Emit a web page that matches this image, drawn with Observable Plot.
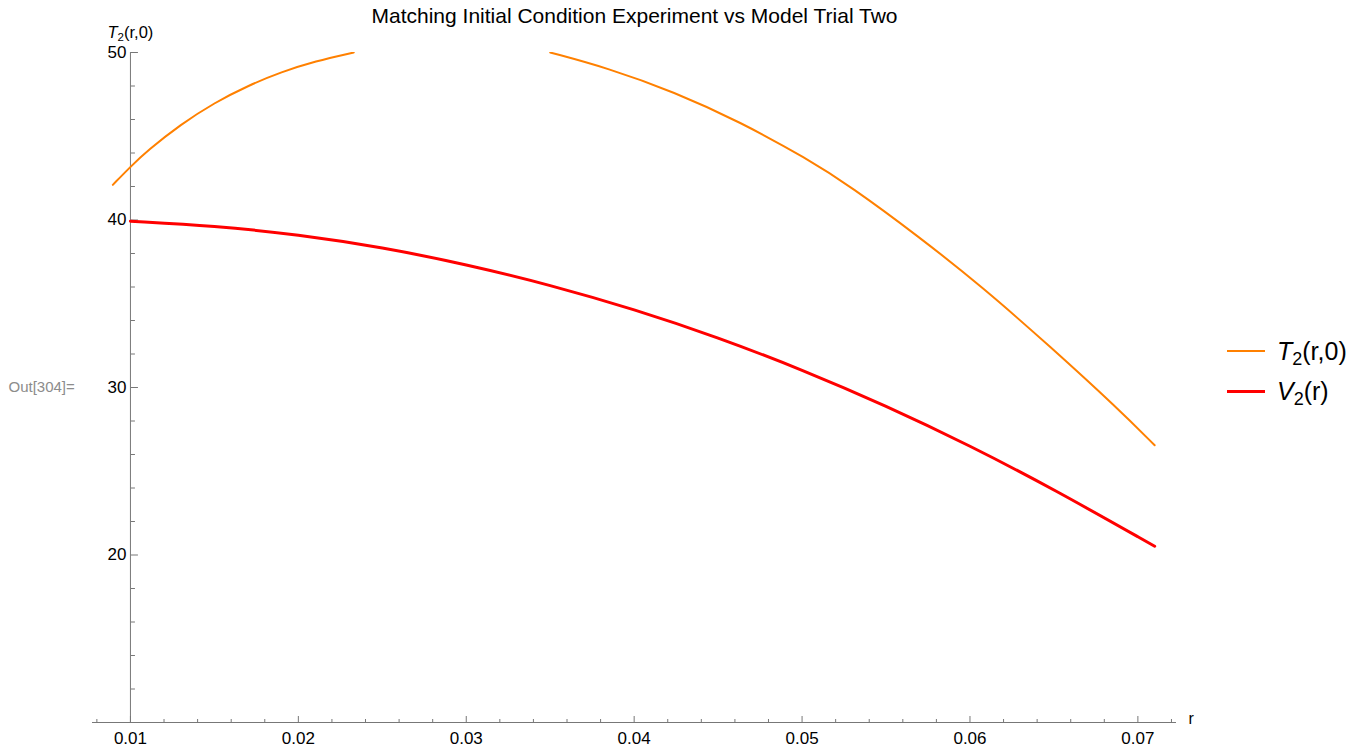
<!DOCTYPE html>
<html>
<head>
<meta charset="utf-8">
<script src="https://cdn.jsdelivr.net/npm/d3@7"></script>
<script src="https://cdn.jsdelivr.net/npm/@observablehq/plot@0.6"></script>
<style>
  html, body { margin: 0; padding: 0; background: #fff; overflow: hidden; }
  #wrap { position: relative; width: 1355px; height: 748px; overflow: hidden; }
  .lg { position: absolute; left: 1227px; height: 28px; line-height: 28px; display: flex; align-items: center; white-space: nowrap;
        font-family: "Liberation Sans", Arial, sans-serif; font-size: 25px; color: #000; }
  .lg .sw { display: inline-block; width: 38px; margin-right: 12px; }
  .lg sub { font-size: 72%; vertical-align: -0.25em; line-height: 0; }
</style>
</head>
<body>
<div id="wrap"></div>
<script>
// ---- data ----
const title = "Matching Initial Condition Experiment vs Model Trial Two";
const yLabel = "T2(r,0)";
const xLabel = "r";
const outLabel = "Out[304]=";
const seriesNames = ["T2(r,0)", "V2(r)"];
const seriesColors = ["#FF8000", "#FF0000"];

const xDomain = [0.00774, 0.0723];
const yDomain = [10, 50];
const yAxisAt = 0.01;
const xAxisAt = 10;

const xMajor = [0.01, 0.02, 0.03, 0.04, 0.05, 0.06, 0.07];
const xMinor = [0.008, 0.012, 0.014, 0.016, 0.018, 0.022, 0.024, 0.026, 0.028,
                0.032, 0.034, 0.036, 0.038, 0.042, 0.044, 0.046, 0.048,
                0.052, 0.054, 0.056, 0.058, 0.062, 0.064, 0.066, 0.068, 0.072];
const yMajor = [20, 30, 40, 50];
const yMinor = [12, 14, 16, 18, 22, 24, 26, 28, 32, 34, 36, 38, 42, 44, 46, 48];

// T2(r,0): curve is cut off above 50 (two visible pieces)
const orangeR1 = [0.00895, 0.0100, 0.0110, 0.0130, 0.0150, 0.0170, 0.0190, 0.0210, 0.0233];
const orangeT1 = [42.10, 43.18, 44.13, 45.71, 47.00, 48.02, 48.84, 49.48, 50.0];
const orangeR2 = [0.0350, 0.0384, 0.0424, 0.0463, 0.0503, 0.0529, 0.0569, 0.0608, 0.0648, 0.0688, 0.0710];
const orangeT2 = [50.0, 49.08, 47.64, 45.86, 43.66, 42.00, 39.05, 35.95, 32.42, 28.75, 26.55];

// V2(r)
const redR = [0.010, 0.015, 0.020, 0.025, 0.030, 0.035, 0.040, 0.045, 0.050, 0.055, 0.060, 0.065, 0.071];
const redT = [39.93, 39.65, 39.13, 38.37, 37.35, 36.12, 34.67, 32.99, 31.06, 28.91, 26.53, 23.92, 20.52];

// ---- build tables ----
const orangeData = [
  ...orangeR1.map((r, i) => ({r, T: orangeT1[i]})),
  {r: NaN, T: NaN},
  ...orangeR2.map((r, i) => ({r, T: orangeT2[i]}))
];
const redData = redR.map((r, i) => ({r, T: redT[i]}));

const axisColor = "#777777";
const font = "'Liberation Sans', Arial, Helvetica, sans-serif";

const chart = Plot.plot({
  width: 1355,
  height: 748,
  marginLeft: 92,
  marginRight: 179,
  marginTop: 52,
  marginBottom: 26,
  x: {domain: xDomain, label: null},
  y: {domain: yDomain, label: null},
  style: {fontFamily: font, background: "white", color: "black", overflow: "visible"},
  marks: [
    // axis lines
    Plot.ruleY([xAxisAt], {stroke: axisColor, strokeWidth: 1}),
    Plot.ruleX([yAxisAt], {y1: yDomain[0], y2: yDomain[1], stroke: axisColor, strokeWidth: 1}),
    // x ticks (pointing up) and labels
    Plot.axisX(xMajor, {anchor: "top", y: xAxisAt, tickSize: 7, stroke: axisColor, tickFormat: () => "", label: null}),
    Plot.axisX(xMinor, {anchor: "top", y: xAxisAt, tickSize: 4, stroke: axisColor, tickFormat: () => "", label: null}),
    Plot.axisX(xMajor, {anchor: "bottom", tickSize: 0, tickPadding: 9, fontSize: 17, fill: "black",
                        tickFormat: d3.format(".2f"), label: null}),
    // y ticks (pointing right) and labels
    Plot.axisY(yMajor, {anchor: "right", x: yAxisAt, tickSize: 7, stroke: axisColor, tickFormat: () => "", label: null}),
    Plot.axisY(yMinor, {anchor: "right", x: yAxisAt, tickSize: 4, stroke: axisColor, tickFormat: () => "", label: null}),
    Plot.axisY(yMajor, {anchor: "left", x: yAxisAt, tickSize: 0, tickPadding: 4, fontSize: 17, fill: "black",
                        tickFormat: d3.format("d"), label: null}),
    // curves
    Plot.line(orangeData, {x: "r", y: "T", stroke: seriesColors[0], strokeWidth: 2, curve: "basis", clip: true}),
    Plot.line(redData, {x: "r", y: "T", stroke: seriesColors[1], strokeWidth: 3, curve: "basis"}),
    // texts
    Plot.text([title], {frameAnchor: "top", dy: -44, fontSize: 21, fill: "black"}),
    Plot.text([yLabel], {x: yAxisAt, y: yDomain[1], dy: -20, fontSize: 16.5, fill: "black"}),
    Plot.text([xLabel], {frameAnchor: "bottom-right", dx: 12, dy: 1, textAnchor: "start", fontSize: 16, fill: "black"}),
    Plot.text([outLabel], {frameAnchor: "left", dx: -84, textAnchor: "start", fontSize: 15, fill: "#8c8c8c"})
  ]
});

// italic T with subscript 2 in the y label
d3.select(chart).selectAll("text").each(function() {
  if (this.textContent === yLabel) {
    const t = d3.select(this);
    t.text(null);
    t.append("tspan").attr("font-style", "italic").text("T");
    t.append("tspan").attr("font-size", "11.5").attr("dy", "3").text("2");
    t.append("tspan").attr("dy", "-3").text("(r,0)");
  }
});

const wrap = document.getElementById("wrap");
wrap.appendChild(chart);

// legend (right side)
const legendTops = [337, 377];
const legendHtml = [
  '<i>T</i><sub>2</sub>(r,0)',
  '<i>V</i><sub>2</sub>(r)'
];
const legendWidths = [2, 3];
seriesNames.forEach((name, i) => {
  const div = document.createElement("div");
  div.className = "lg";
  div.style.top = legendTops[i] + "px";
  div.innerHTML = `<span class="sw" style="border-top:${legendWidths[i]}px solid ${seriesColors[i]}"></span><span>${legendHtml[i]}</span>`;
  wrap.appendChild(div);
});
</script>
</body>
</html>
